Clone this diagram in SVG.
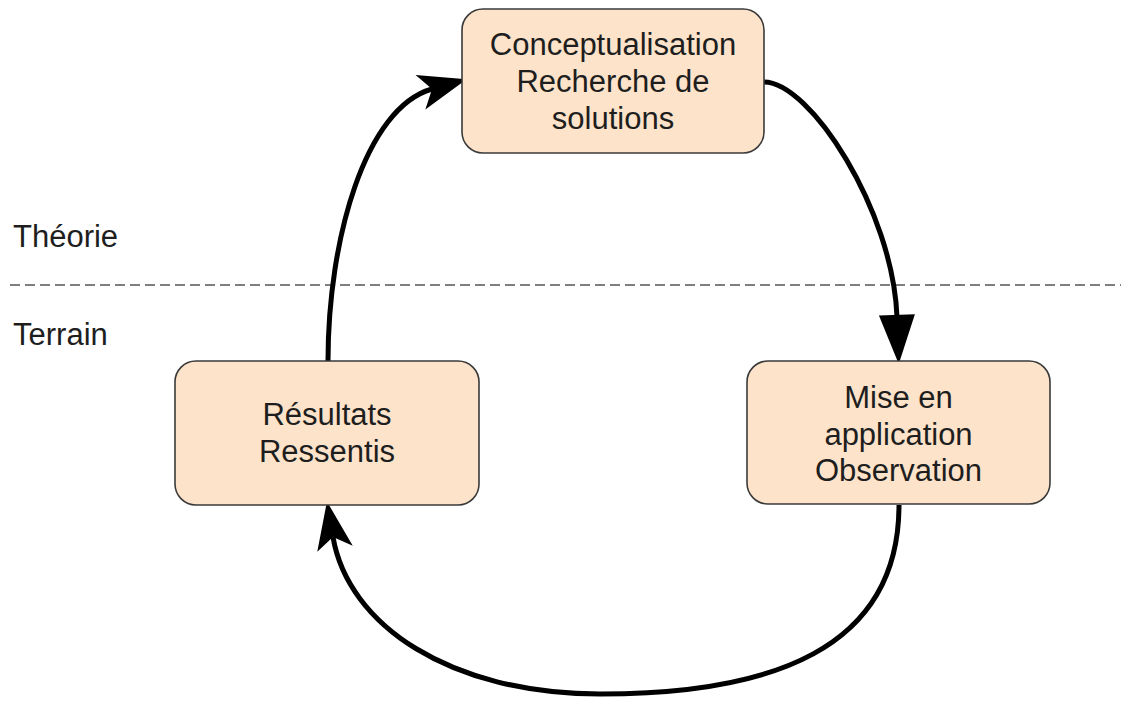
<svg xmlns="http://www.w3.org/2000/svg" width="1121" height="702" viewBox="0 0 1121 702">
<style>
.box{fill:#fde3c9;stroke:#3a3a3a;stroke-width:1.6}
.t{font-family:"Liberation Sans",Arial,Helvetica,sans-serif;font-size:31px;fill:#1e1e1e}
.c{text-anchor:middle}
.edge{fill:none;stroke:#000;stroke-width:5}
.sep{stroke:#555;stroke-width:1.6;stroke-dasharray:10 5;fill:none}
</style>
<defs>
<marker id="notch" markerUnits="userSpaceOnUse" orient="auto" markerWidth="60" markerHeight="60" viewBox="-15 -20 50 40" refX="0" refY="0" overflow="visible">
<path d="M30,0 L-10,-15 L0,0 L-10,15 Z" fill="#000"/>
</marker>
<marker id="block" markerUnits="userSpaceOnUse" orient="auto" markerWidth="60" markerHeight="60" viewBox="-5 -20 55 40" refX="0" refY="0" overflow="visible">
<path d="M-2,-16.5 L43,0 L-2,16.5 Z" fill="#000"/>
</marker>
</defs>
<rect width="1121" height="702" fill="#fff"/>
<line class="sep" x1="10" y1="285" x2="1121" y2="285"/>
<text class="t" x="13" y="247">Théorie</text>
<text class="t" x="13" y="345">Terrain</text>
<g id="connectors">
<path class="edge" d="M328,361 C328,240 365,108 432,89" marker-end="url(#notch)"/>
<path class="edge" d="M764,82 C810,82 893,210 897,317" marker-end="url(#block)"/>
<path class="edge" d="M899,505 C899,650 770,694 600,694 C450,694 348,625 333,537" marker-end="url(#notch)"/>
</g>
<g id="node-conceptualisation">
<rect class="box" x="462" y="9" width="302" height="144" rx="21"/>
<text class="t c" x="613" y="55">Conceptualisation</text>
<text class="t c" x="613" y="92">Recherche de</text>
<text class="t c" x="613" y="129">solutions</text>
</g>
<g id="node-application">
<rect class="box" x="747" y="361" width="303" height="143" rx="21"/>
<text class="t c" x="898.5" y="408">Mise en</text>
<text class="t c" x="898.5" y="444.5">application</text>
<text class="t c" x="898.5" y="481">Observation</text>
</g>
<g id="node-resultats">
<rect class="box" x="175" y="361" width="304" height="144" rx="21"/>
<text class="t c" x="327" y="425">Résultats</text>
<text class="t c" x="327" y="462">Ressentis</text>
</g>
</svg>
